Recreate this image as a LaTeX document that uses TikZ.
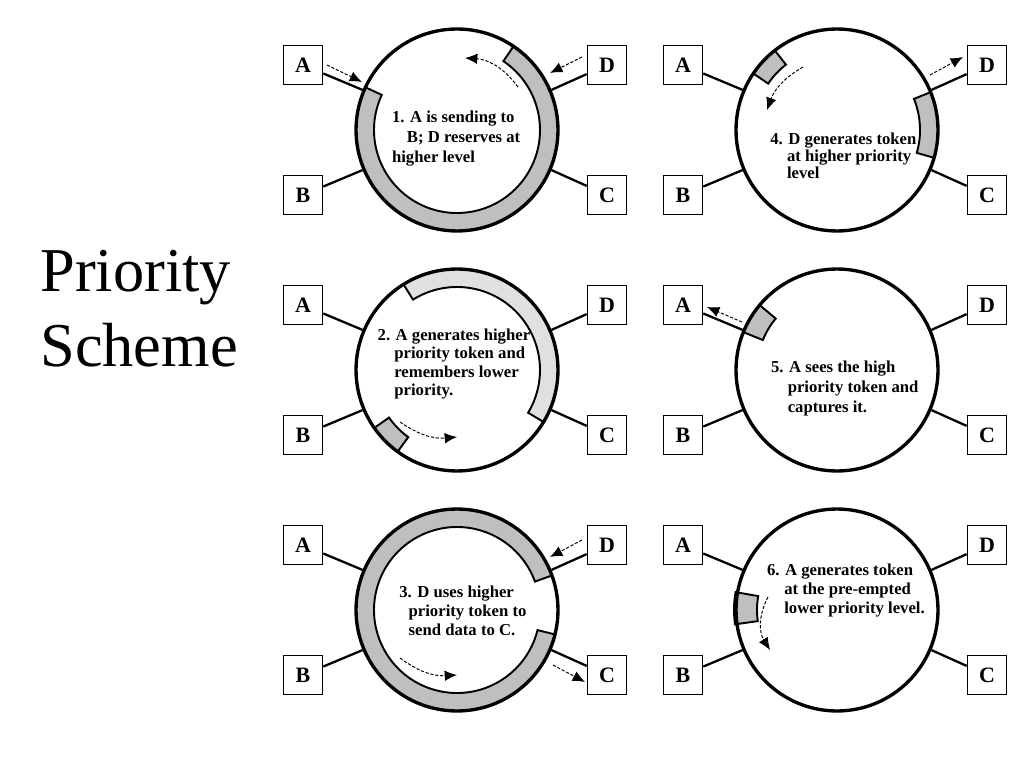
\documentclass[tikz,border=0pt]{standalone}
\usepackage{fontspec}
\setmainfont{Liberation Serif}
\usetikzlibrary{positioning}
\usetikzlibrary{arrows.meta}

\begin{document}
\begin{tikzpicture}[x=0.02cm, y=0.02cm,
    ring/.style={circle, draw=black, line width=1.9pt, minimum size=4.04cm, inner sep=0pt},
    station/.style={rectangle, draw=black, line width=0.9pt, minimum size=0.78cm, inner sep=0pt, font=\fontsize{12.5}{13}\selectfont\bfseries},
    link/.style={line width=1.3pt},
    band/.style={draw=black, line width=1.1pt, fill=black!25},
    lightband/.style={band, fill=black!12},
    signal/.style={-{Latex[length=7pt,width=6pt]}, line width=0.55pt, dash pattern=on 1.8pt off 1pt},
    caption/.style={anchor=north west, inner sep=0pt, align=left}]
    \useasboundingbox (0,0) rectangle (1024,768);

    \node [anchor=north west, inner sep=0pt, align=left, font=\fontsize{35.5}{42.7}\selectfont] (title) at (40,518.6) {Priority\\Scheme};

    % 1. A sending to B, D reserves
    \coordinate (o1) at (457,638);
    \draw [band] ([shift={(155:101)}]o1) arc (155:416:101) -- ([shift={(416:83)}]o1) arc (416:155:83) -- cycle;
    \node [ring] (ring1) at (o1) {};
    \node [station] (A1) at ([shift={(-154,65)}]o1) {A};
    \node [station, below=1.79cm of A1] (B1) {B};
    \node [station, right=5.27cm of A1] (D1) {D};
    \node [station, below=1.79cm of D1] (C1) {C};
    \draw [link] (ring1.157) -- (A1);
    \draw [link] (ring1.203) -- (B1);
    \draw [link] (ring1.23) -- (D1);
    \draw [link] (ring1.337) -- (C1);
    \draw [signal] ([shift={(-130,65)}]o1) -- ([shift={(-95,48)}]o1);
    \draw [signal] ([shift={(125,73)}]o1) -- ([shift={(93,57)}]o1);
    \draw [signal] ([shift={(61,43)}]o1) to [bend right=25] ([shift={(8,72)}]o1);
    \node [caption, font=\fontsize{9.5}{11.4}\selectfont\bfseries] (text1) at ([shift={(-65.3,19.6)}]o1) {1. A is sending to\\\hspace*{8.5pt}B; D reserves at\\higher level};

    % 2. A generates higher priority token
    \coordinate (o2) at (457,398);
    \draw [lightband] ([shift={(-31:101)}]o2) arc (-31:122:101) -- ([shift={(122:83)}]o2) arc (122:-31:83) -- cycle;
    \draw [band] ([shift={(215:101)}]o2) arc (215:234:101) -- ([shift={(234:83)}]o2) arc (234:215:83) -- cycle;
    \node [ring] (ring2) at (o2) {};
    \node [station] (A2) at ([shift={(-154,65)}]o2) {A};
    \node [station, below=1.79cm of A2] (B2) {B};
    \node [station, right=5.27cm of A2] (D2) {D};
    \node [station, below=1.79cm of D2] (C2) {C};
    \draw [link] (ring2.157) -- (A2);
    \draw [link] (ring2.203) -- (B2);
    \draw [link] (ring2.23) -- (D2);
    \draw [link] (ring2.337) -- (C2);
    \draw [signal] ([shift={(-57,-52)}]o2) to [bend right=20] ([shift={(0,-67)}]o2);
    \node [caption, font=\fontsize{9.5}{10.4}\selectfont\bfseries] (text2) at ([shift={(-79.7,41.3)}]o2) {2. A generates higher\\\hspace*{9.5pt}priority token and\\\hspace*{9.5pt}remembers lower\\\hspace*{9.5pt}priority.};

    % 3. D sends data to C
    \coordinate (o3) at (457,158);
    \draw [band] ([shift={(20:101)}]o3) arc (20:346:101) -- ([shift={(346:83)}]o3) arc (346:20:83) -- cycle;
    \node [ring] (ring3) at (o3) {};
    \node [station] (A3) at ([shift={(-154,65)}]o3) {A};
    \node [station, below=1.79cm of A3] (B3) {B};
    \node [station, right=5.27cm of A3] (D3) {D};
    \node [station, below=1.79cm of D3] (C3) {C};
    \draw [link] (ring3.157) -- (A3);
    \draw [link] (ring3.203) -- (B3);
    \draw [link] (ring3.23) -- (D3);
    \draw [link] (ring3.337) -- (C3);
    \draw [signal] ([shift={(125,70)}]o3) -- ([shift={(93,53)}]o3);
    \draw [signal] ([shift={(-57,-48)}]o3) to [bend right=20] ([shift={(0,-65)}]o3);
    \draw [signal] ([shift={(96,-55)}]o3) -- ([shift={(128,-72)}]o3);
    \node [caption, font=\fontsize{9.5}{10.6}\selectfont\bfseries] (text3) at ([shift={(-58,24)}]o3) {3. D uses higher\\\hspace*{5.3pt}priority token to\\\hspace*{5.3pt}send data to C.};

    % 4. D generates token
    \coordinate (o4) at (837,638);
    \draw [band] ([shift={(128:101)}]o4) arc (128:146:101) -- ([shift={(146:83)}]o4) arc (146:128:83) -- cycle;
    \draw [band] ([shift={(-16:101)}]o4) arc (-16:22:101) -- ([shift={(22:83)}]o4) arc (22:-16:83) -- cycle;
    \node [ring] (ring4) at (o4) {};
    \node [station] (A4) at ([shift={(-154,65)}]o4) {A};
    \node [station, below=1.79cm of A4] (B4) {B};
    \node [station, right=5.27cm of A4] (D4) {D};
    \node [station, below=1.79cm of D4] (C4) {C};
    \draw [link] (ring4.157) -- (A4);
    \draw [link] (ring4.203) -- (B4);
    \draw [link] (ring4.23) -- (D4);
    \draw [link] (ring4.337) -- (C4);
    \draw [signal] ([shift={(-34,63)}]o4) to [bend right=20] ([shift={(-70,20)}]o4);
    \draw [signal] ([shift={(93,55)}]o4) -- ([shift={(126,73)}]o4);
    \node [caption, font=\fontsize{9.5}{8.3}\selectfont\bfseries] (text4) at ([shift={(-67,-2.7)}]o4) {4. D generates token\\\hspace*{9.5pt}at higher priority\\\hspace*{9.5pt}level};

    % 5. A captures the token
    \coordinate (o5) at (837,398);
    \draw [band] ([shift={(140:101)}]o5) arc (140:158:101) -- ([shift={(158:80)}]o5) arc (158:140:80) -- cycle;
    \node [ring] (ring5) at (o5) {};
    \node [station] (A5) at ([shift={(-154,65)}]o5) {A};
    \node [station, below=1.79cm of A5] (B5) {B};
    \node [station, right=5.27cm of A5] (D5) {D};
    \node [station, below=1.79cm of D5] (C5) {C};
    \draw [link] (ring5.157) -- (A5);
    \draw [link] (ring5.203) -- (B5);
    \draw [link] (ring5.23) -- (D5);
    \draw [link] (ring5.337) -- (C5);
    \draw [signal] ([shift={(-95,48)}]o5) -- ([shift={(-130,63)}]o5);
    \node [caption, font=\fontsize{9.5}{11.4}\selectfont\bfseries] (text5) at ([shift={(-66.3,9.6)}]o5) {5. A sees the high\\\hspace*{9.5pt}priority token and\\\hspace*{9.5pt}captures it.};

    % 6. A regenerates lower priority token
    \coordinate (o6) at (837,158);
    \draw [band] ([shift={(170:103)}]o6) arc (170:188:103) -- ([shift={(188:80)}]o6) arc (188:170:80) -- cycle;
    \node [ring] (ring6) at (o6) {};
    \node [station] (A6) at ([shift={(-154,65)}]o6) {A};
    \node [station, below=1.79cm of A6] (B6) {B};
    \node [station, right=5.27cm of A6] (D6) {D};
    \node [station, below=1.79cm of D6] (C6) {C};
    \draw [link] (ring6.157) -- (A6);
    \draw [link] (ring6.203) -- (B6);
    \draw [link] (ring6.23) -- (D6);
    \draw [link] (ring6.337) -- (C6);
    \draw [signal] ([shift={(-69,13)}]o6) to [bend right=30] ([shift={(-67,-40)}]o6);
    \node [caption, font=\fontsize{9.5}{10.9}\selectfont\bfseries] (text6) at ([shift={(-70.3,46.3)}]o6) {6. A generates token\\\hspace*{9.8pt}at the pre-empted\\\hspace*{9.8pt}lower priority level.};
\end{tikzpicture}
\end{document}
